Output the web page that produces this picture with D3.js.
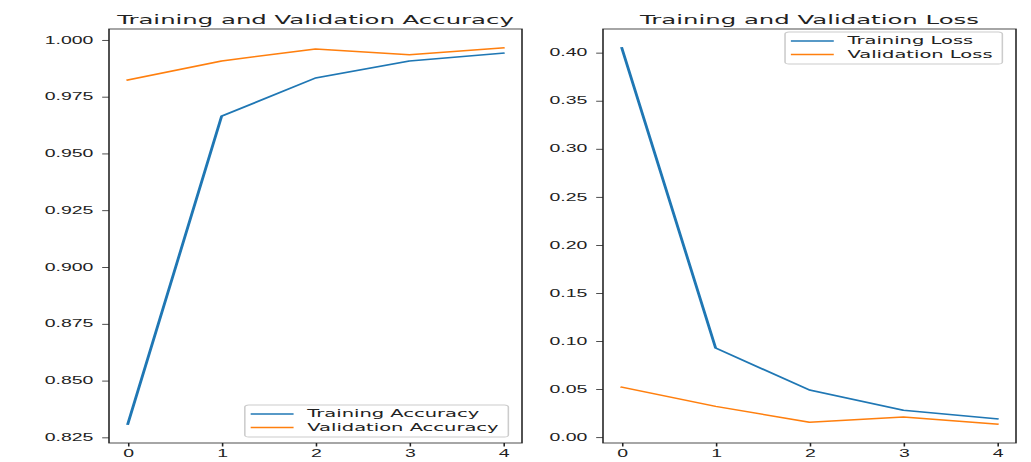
<!DOCTYPE html>
<html>
<head>
<meta charset="utf-8">
<script src="https://cdn.jsdelivr.net/npm/d3@7"></script>
<style>
  body { margin: 0; background: #fff; }
  svg { display: block; }
</style>
</head>
<body>
<script>
// values
const epochs = [0, 1, 2, 3, 4];
const trainAcc = [0.8308, 0.9664, 0.9832, 0.9907, 0.9942];
const valAcc = [0.9823, 0.9907, 0.9960, 0.9934, 0.9965];
const trainLoss = [0.405, 0.0927, 0.049, 0.028, 0.019];
const valLoss = [0.052, 0.032, 0.0156, 0.021, 0.0135];

const accTicks = [0.825, 0.850, 0.875, 0.900, 0.925, 0.950, 0.975, 1.000];
const lossTicks = [0.00, 0.05, 0.10, 0.15, 0.20, 0.25, 0.30, 0.35, 0.40];
const xTicks = [0, 1, 2, 3, 4];

const blue = "#1f77b4", orange = "#ff7f0e";

// the picture is stretched sideways, so draw narrow and stretch the svg
const W = 1031, H = 462, sx = 1.95;
const vw = W / sx;

const svg = d3.select("body").append("svg")
    .attr("width", W)
    .attr("height", H)
    .attr("viewBox", "0 0 " + vw + " " + H)
    .attr("preserveAspectRatio", "none")
    .style("font-family", "'DejaVu Sans', sans-serif");

const plotTop = 29, plotBottom = 443;

const panels = [
  {
    title: "Training and Validation Accuracy",
    left: 109 / sx, right: 522 / sx,
    ticks: accTicks, fmt: d3.format(".3f"),
    series: [
      {name: "Training Accuracy", values: trainAcc, color: blue},
      {name: "Validation Accuracy", values: valAcc, color: orange}
    ],
    legend: "lower right"
  },
  {
    title: "Training and Validation Loss",
    left: 603 / sx, right: 1016 / sx,
    ticks: lossTicks, fmt: d3.format(".2f"),
    series: [
      {name: "Training Loss", values: trainLoss, color: blue},
      {name: "Validation Loss", values: valLoss, color: orange}
    ],
    legend: "upper right"
  }
];

panels.forEach(drawPanel);

function drawPanel(p) {
  const all = p.series.flatMap(s => s.values);
  const lo = d3.min(all), hi = d3.max(all), m = (hi - lo) * 0.05;

  const x = d3.scaleLinear().domain([-0.2, 4.2]).range([p.left, p.right]);
  const y = d3.scaleLinear().domain([lo - m, hi + m]).range([plotBottom, plotTop]);

  const g = svg.append("g");

  const xAxis = g.append("g")
      .attr("transform", "translate(0," + plotBottom + ")")
      .call(d3.axisBottom(x).tickValues(xTicks).tickFormat(d3.format("d"))
            .tickSize(3.5).tickPadding(3.5));
  const yAxis = g.append("g")
      .attr("transform", "translate(" + p.left + ",0)")
      .call(d3.axisLeft(y).tickValues(p.ticks).tickFormat(p.fmt)
            .tickSize(3.5).tickPadding(4.5));

  [xAxis, yAxis].forEach(a => {
    a.select(".domain").remove();
    a.selectAll(".tick line").attr("stroke", "#222").attr("stroke-width", 0.8);
    a.selectAll(".tick text").attr("fill", "#222").style("font-size", "10px");
  });

  const line = d3.line().x((d, i) => x(epochs[i])).y(d => y(d));
  p.series.forEach(s => {
    g.append("path")
      .datum(s.values)
      .attr("d", line)
      .attr("fill", "none")
      .attr("stroke", s.color)
      .attr("stroke-width", 1.5)
      .attr("stroke-linejoin", "round")
      .attr("stroke-linecap", "square");
  });

  // frame
  g.append("rect")
    .attr("x", p.left).attr("y", plotTop)
    .attr("width", p.right - p.left).attr("height", plotBottom - plotTop)
    .attr("fill", "none").attr("stroke", "#222").attr("stroke-width", 0.8);

  g.append("text")
    .attr("x", (p.left + p.right) / 2)
    .attr("y", plotTop - 5)
    .attr("text-anchor", "middle")
    .attr("fill", "#222")
    .style("font-size", "12.5px")
    .text(p.title);

  // legend
  const fs = 10, pad = 3, handle = 22, gap = 7, rowStep = 13.5, edgeX = 7, edgeY = 6;
  const lg = g.append("g");
  const frame = lg.append("rect");
  const labels = p.series.map((s, i) =>
    lg.append("text")
      .attr("dy", "0.35em")
      .attr("fill", "#222")
      .style("font-size", fs + "px")
      .text(s.name));
  const tw = d3.max(labels, t => t.node().getComputedTextLength());
  const bw = pad + handle + gap + tw + 5;
  const bh = 32;
  const bx = p.right - edgeX - bw;
  const by = p.legend === "upper right" ? plotTop + 3 : plotBottom - edgeY - bh;

  frame.attr("x", bx).attr("y", by).attr("width", bw).attr("height", bh)
    .attr("rx", 2).attr("fill", "#fff").attr("fill-opacity", 0.8)
    .attr("stroke", "#ccc").attr("stroke-width", 0.8);

  p.series.forEach((s, i) => {
    const cy = by + 9 + i * rowStep;
    lg.append("line")
      .attr("x1", bx + pad).attr("x2", bx + pad + handle)
      .attr("y1", cy).attr("y2", cy)
      .attr("stroke", s.color).attr("stroke-width", 1.5);
    labels[i].attr("x", bx + pad + handle + gap).attr("y", cy);
  });
}
</script>
</body>
</html>
